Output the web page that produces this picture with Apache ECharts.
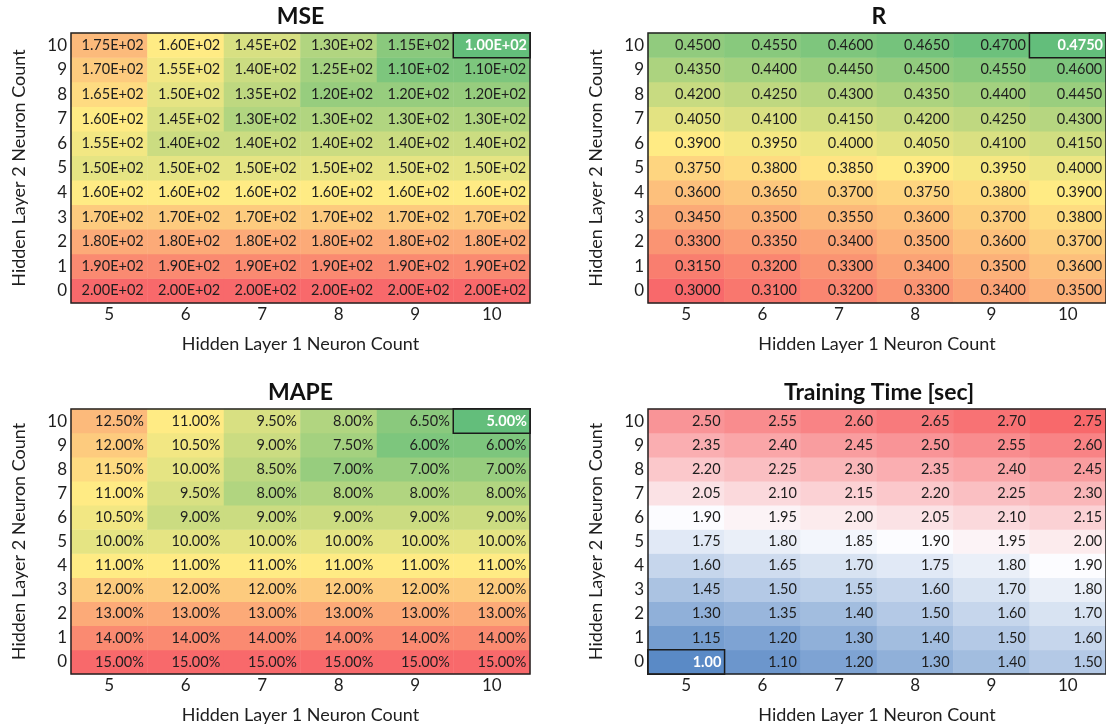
<!DOCTYPE html>
<html>
<head>
<meta charset="utf-8">
<script src="https://cdn.jsdelivr.net/npm/echarts@6/dist/echarts.min.js"></script>
<style>
  html, body { margin: 0; padding: 0; background: #ffffff; }
  #chart { width: 1106px; height: 725px; }
</style>
</head>
<body>
<div id="chart"></div>
<script>
// Hidden layer 1 neuron counts (columns) and hidden layer 2 neuron counts (rows)
const layer1Counts = ['5', '6', '7', '8', '9', '10'];
const layer2Counts = ['0', '1', '2', '3', '4', '5', '6', '7', '8', '9', '10'];

// Each row is one hidden layer 2 count (0 .. 10), columns follow layer1Counts
const mseRows = [
  [200, 200, 200, 200, 200, 200],
  [190, 190, 190, 190, 190, 190],
  [180, 180, 180, 180, 180, 180],
  [170, 170, 170, 170, 170, 170],
  [160, 160, 160, 160, 160, 160],
  [150, 150, 150, 150, 150, 150],
  [155, 140, 140, 140, 140, 140],
  [160, 145, 130, 130, 130, 130],
  [165, 150, 135, 120, 120, 120],
  [170, 155, 140, 125, 110, 110],
  [175, 160, 145, 130, 115, 100]
];

const rRows = [
  [0.3000, 0.3100, 0.3200, 0.3300, 0.3400, 0.3500],
  [0.3150, 0.3200, 0.3300, 0.3400, 0.3500, 0.3600],
  [0.3300, 0.3350, 0.3400, 0.3500, 0.3600, 0.3700],
  [0.3450, 0.3500, 0.3550, 0.3600, 0.3700, 0.3800],
  [0.3600, 0.3650, 0.3700, 0.3750, 0.3800, 0.3900],
  [0.3750, 0.3800, 0.3850, 0.3900, 0.3950, 0.4000],
  [0.3900, 0.3950, 0.4000, 0.4050, 0.4100, 0.4150],
  [0.4050, 0.4100, 0.4150, 0.4200, 0.4250, 0.4300],
  [0.4200, 0.4250, 0.4300, 0.4350, 0.4400, 0.4450],
  [0.4350, 0.4400, 0.4450, 0.4500, 0.4550, 0.4600],
  [0.4500, 0.4550, 0.4600, 0.4650, 0.4700, 0.4750]
];

// MAPE in percent
const mapeRows = [
  [15.0, 15.0, 15.0, 15.0, 15.0, 15.0],
  [14.0, 14.0, 14.0, 14.0, 14.0, 14.0],
  [13.0, 13.0, 13.0, 13.0, 13.0, 13.0],
  [12.0, 12.0, 12.0, 12.0, 12.0, 12.0],
  [11.0, 11.0, 11.0, 11.0, 11.0, 11.0],
  [10.0, 10.0, 10.0, 10.0, 10.0, 10.0],
  [10.5, 9.0, 9.0, 9.0, 9.0, 9.0],
  [11.0, 9.5, 8.0, 8.0, 8.0, 8.0],
  [11.5, 10.0, 8.5, 7.0, 7.0, 7.0],
  [12.0, 10.5, 9.0, 7.5, 6.0, 6.0],
  [12.5, 11.0, 9.5, 8.0, 6.5, 5.0]
];

// Training time in seconds
const timeRows = [
  [1.00, 1.10, 1.20, 1.30, 1.40, 1.50],
  [1.15, 1.20, 1.30, 1.40, 1.50, 1.60],
  [1.30, 1.35, 1.40, 1.50, 1.60, 1.70],
  [1.45, 1.50, 1.55, 1.60, 1.70, 1.80],
  [1.60, 1.65, 1.70, 1.75, 1.80, 1.90],
  [1.75, 1.80, 1.85, 1.90, 1.95, 2.00],
  [1.90, 1.95, 2.00, 2.05, 2.10, 2.15],
  [2.05, 2.10, 2.15, 2.20, 2.25, 2.30],
  [2.20, 2.25, 2.30, 2.35, 2.40, 2.45],
  [2.35, 2.40, 2.45, 2.50, 2.55, 2.60],
  [2.50, 2.55, 2.60, 2.65, 2.70, 2.75]
];

const FONT = 'Lato, "Open Sans", sans-serif';
const TEXT = '#1e1e1e';

// Three-colour scale anchors
const RED = '#F8696B', YELLOW = '#FFEB84', GREEN = '#63BE7B';
const BLUE = '#5A8AC6', WHITE = '#FCFCFF';

function hexToRgb(h) {
  return [parseInt(h.slice(1, 3), 16), parseInt(h.slice(3, 5), 16), parseInt(h.slice(5, 7), 16)];
}
function mix(a, b, t) {
  const ca = hexToRgb(a), cb = hexToRgb(b);
  const c = ca.map((v, i) => Math.round(v + (cb[i] - v) * t));
  return 'rgb(' + c.join(',') + ')';
}
function median(vals) {
  const s = vals.slice().sort((x, y) => x - y);
  const n = s.length;
  return n % 2 ? s[(n - 1) / 2] : (s[n / 2 - 1] + s[n / 2]) / 2;
}
// Colour stops for a min / median / max scale, evenly spaced for visualMap
function scaleStops(min, mid, max, cLow, cMid, cHigh) {
  const n = 201, stops = [];
  for (let i = 0; i < n; i++) {
    const v = min + (max - min) * i / (n - 1);
    stops.push(v <= mid ? mix(cLow, cMid, (v - min) / (mid - min))
                        : mix(cMid, cHigh, (v - mid) / (max - mid)));
  }
  return stops;
}

function fmtSci(v) {
  const e = Math.floor(Math.log10(Math.abs(v)));
  const m = v / Math.pow(10, e);
  const sign = e < 0 ? '-' : '+';
  const ea = Math.abs(e);
  return m.toFixed(2) + 'E' + sign + (ea < 10 ? '0' + ea : ea);
}

const panels = [
  { title: 'MSE', rows: mseRows, best: 'min', colors: [GREEN, YELLOW, RED],
    fmt: v => fmtSci(v), left: 71, top: 33, width: 459, height: 270 },
  { title: 'R', rows: rRows, best: 'max', colors: [RED, YELLOW, GREEN],
    fmt: v => v.toFixed(4), left: 648, top: 33, width: 462, height: 270 },
  { title: 'MAPE', rows: mapeRows, best: 'min', colors: [GREEN, YELLOW, RED],
    fmt: v => v.toFixed(2) + '%', left: 71, top: 409, width: 459, height: 268 },
  { title: 'Training Time [sec]', rows: timeRows, best: 'min', colors: [BLUE, WHITE, RED],
    fmt: v => v.toFixed(2), left: 648, top: 409, width: 462, height: 268 }
];

const option = {
  animation: false,
  backgroundColor: '#ffffff',
  title: [], grid: [], xAxis: [], yAxis: [], visualMap: [], series: []
};

panels.forEach((p, i) => {
  const flat = [].concat(...p.rows);
  const min = Math.min(...flat), max = Math.max(...flat), mid = median(flat);
  const bestVal = p.best === 'min' ? min : max;

  // the best cell goes last so its outline sits above its neighbours
  const normal = [], highlighted = [];
  p.rows.forEach((row, y) => {
    row.forEach((v, x) => {
      if (v === bestVal) {
        highlighted.push({
          value: [x, y, v],
          itemStyle: { borderColor: '#1a1a1a', borderWidth: 1.5 },
          label: { color: '#ffffff', fontWeight: 'bold' }
        });
      } else {
        normal.push({ value: [x, y, v] });
      }
    });
  });

  option.title.push({
    text: p.title,
    left: p.left + p.width / 2,
    top: p.top - 28,
    textAlign: 'center',
    padding: 0,
    textStyle: { fontFamily: FONT, fontSize: 23, fontWeight: 'bold', color: '#111' }
  });

  option.grid.push({
    left: p.left, top: p.top, width: p.width, height: p.height,
    show: true, z: 5,
    backgroundColor: 'rgba(0,0,0,0)',
    borderColor: '#222', borderWidth: 1.5
  });

  option.xAxis.push({
    type: 'category', gridIndex: i, data: layer1Counts,
    name: 'Hidden Layer 1 Neuron Count', nameLocation: 'middle', nameGap: 32,
    nameTextStyle: { fontFamily: FONT, fontSize: 18, color: TEXT },
    axisLine: { show: false }, axisTick: { show: false }, splitLine: { show: false },
    axisLabel: { fontFamily: FONT, fontSize: 17, color: TEXT, margin: 3 }
  });

  option.yAxis.push({
    type: 'category', gridIndex: i, data: layer2Counts,
    name: 'Hidden Layer 2 Neuron Count', nameLocation: 'middle', nameGap: 43,
    nameTextStyle: { fontFamily: FONT, fontSize: 18, color: TEXT },
    axisLine: { show: false }, axisTick: { show: false }, splitLine: { show: false },
    axisLabel: { fontFamily: FONT, fontSize: 17, color: TEXT, margin: 4 }
  });

  option.visualMap.push({
    type: 'continuous', show: false, seriesIndex: i, dimension: 2,
    min: min, max: max,
    inRange: { color: scaleStops(min, mid, max, p.colors[0], p.colors[1], p.colors[2]) }
  });

  option.series.push({
    type: 'heatmap', name: p.title, xAxisIndex: i, yAxisIndex: i,
    data: normal.concat(highlighted),
    itemStyle: { borderWidth: 0 },
    label: {
      show: true, position: 'insideRight', distance: 4,
      fontFamily: FONT, fontSize: 14.5, color: TEXT,
      formatter: params => p.fmt(params.value[2])
    },
    emphasis: { disabled: true }
  });
});

const chart = echarts.init(document.getElementById('chart'), null, { renderer: 'canvas' });
chart.setOption(option);
</script>
</body>
</html>
